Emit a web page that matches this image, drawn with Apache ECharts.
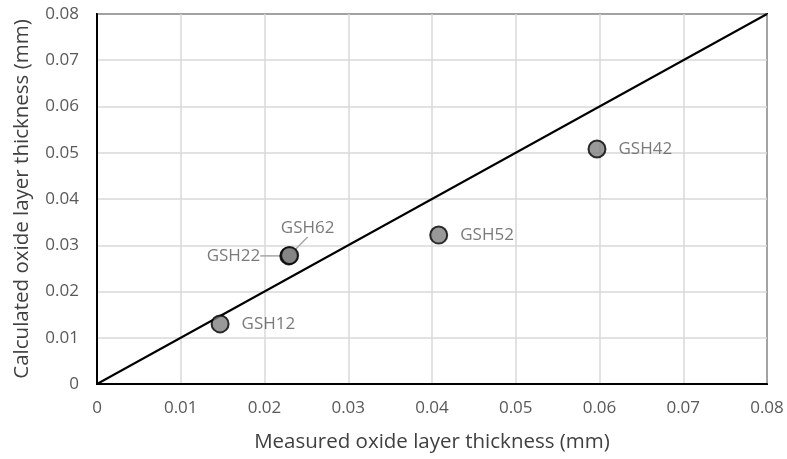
<!DOCTYPE html>
<html>
<head>
<meta charset="utf-8">
<script src="https://cdn.jsdelivr.net/npm/echarts@6/dist/echarts.min.js"></script>
<style>
  html, body { margin: 0; padding: 0; background: #fff; }
  #chart { width: 787px; height: 459px; }
</style>
</head>
<body>
<div id="chart"></div>
<script>
// Sample names and thickness values (mm)
const samples = ['GSH12', 'GSH22', 'GSH62', 'GSH52', 'GSH42'];
const measured = [0.0147, 0.0229, 0.0230, 0.0408, 0.0597];
const calculated = [0.0130, 0.0277, 0.0278, 0.0322, 0.0508];
// Reference line y = x across the axis range
const parityLine = [[0, 0], [0.08, 0.08]];
const axisTicks = [0, 0.01, 0.02, 0.03, 0.04, 0.05, 0.06, 0.07, 0.08];

const FONT = 'Open Sans';

// Label placement for each sample; the two overlapping samples get leader lines
const labelPlacement = {
  GSH12: { position: 'right', distance: 12 },
  GSH22: { position: 'left', distance: 19 },
  GSH62: { position: 'top', distance: 9 },
  GSH52: { position: 'right', distance: 12 },
  GSH42: { position: 'right', distance: 12 }
};
const leaderLine = { GSH22: true, GSH62: true };
const labelShift = {
  GSH62: { dx: 18, dy: 0 }
};

const chart = echarts.init(document.getElementById('chart'), null, { renderer: 'canvas' });

const axisCommon = {
  min: axisTicks[0],
  max: axisTicks[axisTicks.length - 1],
  interval: 0.01,
  axisLine: { show: true, onZero: false, lineStyle: { color: '#000', width: 2 } },
  axisTick: { show: false },
  splitLine: { show: true, lineStyle: { color: '#d9d9d9', width: 1.5 } },
  axisLabel: {
    color: '#595959', fontFamily: FONT, fontSize: 17,
    formatter: v => (Math.round(v * 100) / 100).toString()
  },
  nameTextStyle: { color: '#404040', fontFamily: FONT, fontSize: 20.5 }
};

chart.setOption({
  animation: false,
  backgroundColor: '#fff',
  grid: { left: 97, right: 20, top: 14, bottom: 75, show: true, borderColor: '#000', borderWidth: 2 },
  xAxis: Object.assign({}, axisCommon, {
    type: 'value',
    name: 'Measured oxide layer thickness (mm)',
    nameLocation: 'middle',
    nameGap: 48,
    axisLabel: Object.assign({}, axisCommon.axisLabel, { margin: 16 })
  }),
  yAxis: Object.assign({}, axisCommon, {
    type: 'value',
    name: 'Calculated oxide layer thickness (mm)',
    nameLocation: 'middle',
    nameGap: 64,
    axisLabel: Object.assign({}, axisCommon.axisLabel, { margin: 18 })
  }),
  series: [
    {
      type: 'line',
      data: parityLine,
      symbol: 'none',
      lineStyle: { color: '#000', width: 2 },
      silent: true,
      z: 2
    },
    {
      type: 'scatter',
      data: samples.map((s, i) => ({
        name: s,
        value: [measured[i], calculated[i]],
        label: labelPlacement[s],
        labelLine: { show: !!leaderLine[s] }
      })),
      symbol: 'circle',
      symbolSize: 17,
      itemStyle: { color: '#808080', borderColor: '#000', borderWidth: 2 },
      label: {
        show: true,
        formatter: p => p.name,
        color: '#595959',
        fontFamily: FONT,
        fontSize: 17
      },
      labelLine: {
        show: false,
        lineStyle: { color: '#a6a6a6', width: 1.5 }
      },
      labelLayout: p => {
        const s = samples[p.dataIndex];
        return labelShift[s] || {};
      },
      z: 3
    }
  ]
});
</script>
</body>
</html>
